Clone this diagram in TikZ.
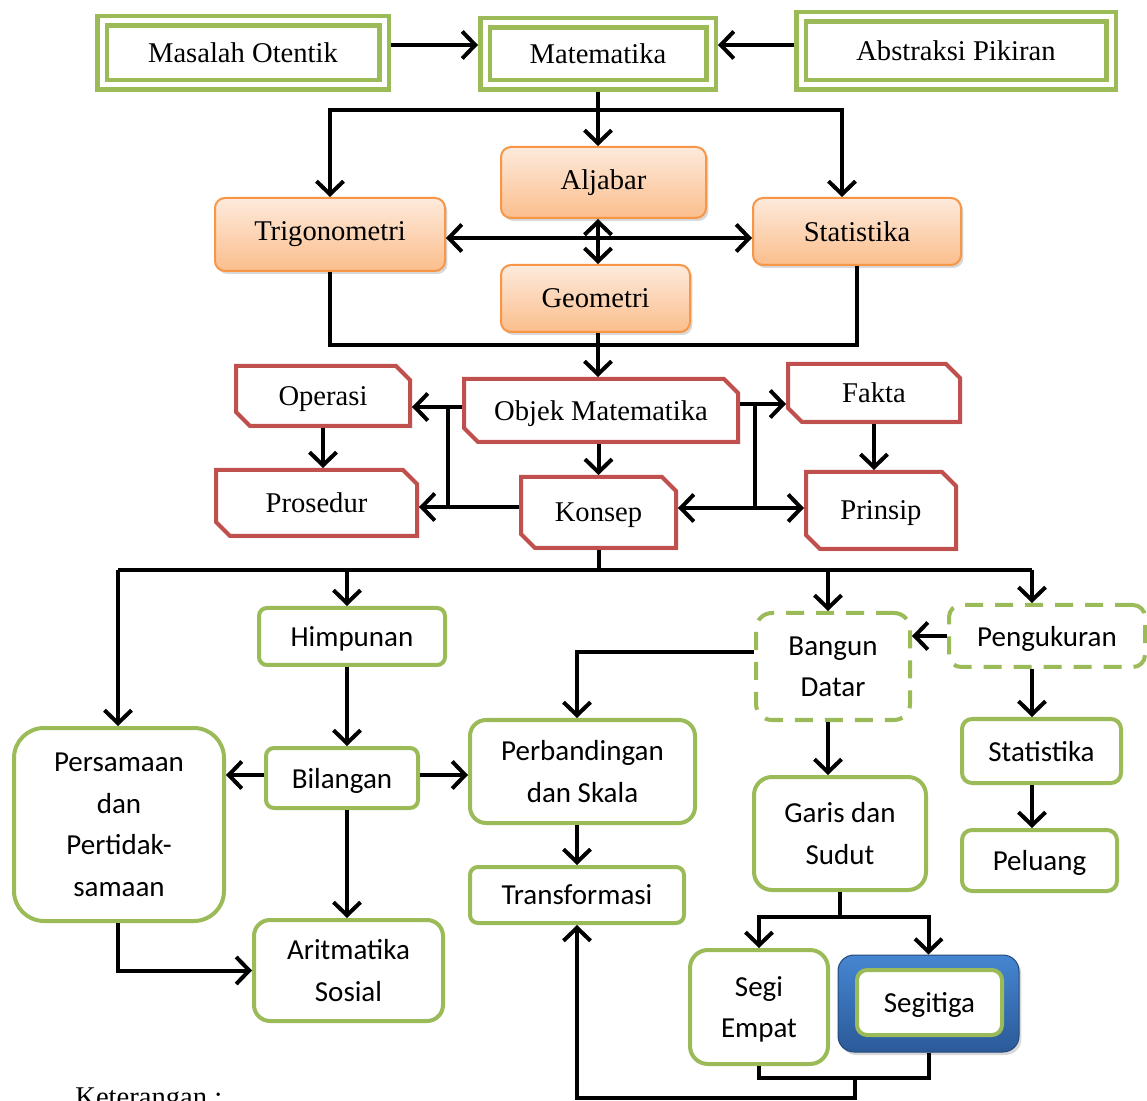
\documentclass[tikz,border=0pt]{standalone}
\usepackage{fontspec}
\setmainfont{Liberation Serif}
\newfontfamily\carl{Carlito}
\usetikzlibrary{arrows.meta,shapes.misc,shadows}
\definecolor{grn}{HTML}{9BBB59}
\definecolor{redc}{HTML}{C0504D}
\definecolor{orBd}{HTML}{F79646}
\definecolor{orTop}{HTML}{FDEADC}
\definecolor{orBot}{HTML}{FBBE8C}
\definecolor{bluT}{HTML}{4686D2}
\definecolor{bluB}{HTML}{2B5A98}
\tikzset{
  ser/.style={font=\fontsize{14.3}{17}\selectfont},
  san/.style={font=\carl\fontsize{14.5}{20.75}\selectfont, align=center, text depth=0pt},
  dbl/.style={draw=grn, line width=2.25pt, double=white, double distance=2.5pt, outer sep=3.5pt, inner sep=0pt, ser},
  orng/.style={draw=orBd, line width=1pt, rounded corners=5pt, top color=orTop, bottom color=orBot,
    drop shadow={shadow xshift=1.2pt, shadow yshift=-1.5pt, opacity=0.3}, inner sep=0pt, ser},
  redb/.style={chamfered rectangle, chamfered rectangle corners={north east,south west},
    chamfered rectangle sep=3.5pt, draw=redc, line width=2pt, fill=white, inner sep=0pt,
    drop shadow={shadow xshift=1pt, shadow yshift=-1.2pt, opacity=0.2}, ser, text depth=0pt},
  grb/.style={draw=grn, line width=2pt, rounded corners=#1, fill=white, inner sep=0pt, san},
  grb/.default=5pt,
  dgrb/.style={grb=#1, dash pattern=on 9pt off 6pt},
  dgrb/.default=6pt,
  ln/.style={line width=2pt, draw=black},
  tip/.tip={Straight Barb[length=6.5pt,width=13.5pt,line width=2pt]},
  arr/.style={ln, -tip},
  arr2/.style={ln, tip-tip},
}
\begin{document}
\begin{tikzpicture}[x=0.5pt,y=-0.5pt]
\fill[white] (0,0) rectangle (1147,1101);
\useasboundingbox (0,0) rectangle (1147,1101);

% top row
\node[dbl, minimum width=141pt, minimum height=32pt] (mas) at (243,53) {Masalah Otentik};
\node[dbl, minimum width=113pt, minimum height=31pt] (mat) at (598,54) {Matematika};
\node[dbl, minimum width=155pt, minimum height=34pt] (abs) at (956,51) {Abstraksi Pikiran};

% orange
\node[orng, minimum width=102.5pt, minimum height=35.5pt] (alj) at (603.5,182.5) {Aljabar};
\node[orng, minimum width=115pt, minimum height=36.5pt] (trig) at (330,234.5) {Trigonometri};
\node[orng, minimum width=104pt, minimum height=33.5pt] (stat) at (857,231.5) {Statistika};
\node[orng, minimum width=94.5pt, minimum height=33.5pt] (geo) at (595.5,298.5) {Geometri};

% red
\node[redb, minimum width=87pt, minimum height=30pt] (ope) at (323,396) {Operasi};
\node[redb, minimum width=137pt, minimum height=31.5pt] (obj) at (601,410.5) {Objek Matematika};
\node[redb, minimum width=86pt, minimum height=29pt] (fak) at (874,393) {Fakta};
\node[redb, minimum width=100.5pt, minimum height=33pt] (pros) at (316.5,503) {Prosedur};
\node[redb, minimum width=77.5pt, minimum height=35.5pt] (kon) at (598.5,512.5) {Konsep};
\node[redb, minimum width=75pt, minimum height=38.5pt] (pri) at (881,510.5) {Prinsip};

% green
\node[grb=4pt, minimum width=93pt, minimum height=28.5pt] (him) at (352,636.5) {Himpunan};
\node[grb=4pt, minimum width=76pt, minimum height=30pt] (bil) at (342,778) {Bilangan};
\node[grb=15pt, minimum width=105pt, minimum height=96.5pt] (pers) at (119,824.5) {Persamaan\\dan\\Pertidak-\\samaan};
\node[grb=8pt, minimum width=112.5pt, minimum height=51.5pt] (perb) at (582.5,771.5) {Perbandingan\\dan Skala};
\node[grb=4pt, minimum width=107pt, minimum height=28pt] (tra) at (577,895) {Transformasi};
\node[grb=8pt, minimum width=94.5pt, minimum height=50.5pt] (ari) at (348.5,970.5) {Aritmatika\\Sosial};
\node[dgrb=8pt, minimum width=77pt, minimum height=53.5pt] (ban) at (833,666.5) {Bangun\\Datar};
\node[dgrb=6pt, minimum width=98pt, minimum height=31pt] (peng) at (1047,636) {Pengukuran};
\node[grb=5pt, minimum width=79.5pt, minimum height=32pt] (st2) at (1041.5,751) {Statistika};
\node[grb=5pt, minimum width=77.5pt, minimum height=30.5pt] (pel) at (1039.5,860.5) {Peluang};
\node[grb=9pt, minimum width=86pt, minimum height=56.5pt] (gar) at (840,833.5) {Garis dan\\Sudut};
\node[grb=9pt, minimum width=69pt, minimum height=57pt] (segi) at (759,1007) {Segi\\Empat};
\node[top color=bluT, bottom color=bluB, draw=bluB!80!black, line width=0.5pt, rounded corners=8pt,
  minimum width=90.5pt, minimum height=48.5pt,
  drop shadow={shadow xshift=1.2pt, shadow yshift=-1.5pt, opacity=0.3}] (tri) at (928.5,1003.5) {};
\node[grb=5pt, minimum width=72.5pt, minimum height=32.5pt] (tri2) at (929.5,1002.5) {Segitiga};

\node[ser, anchor=north west, inner sep=0pt] (ket) at (75,1087) {Keterangan :};

% connectors top
\coordinate (ya) at (0,45);
\draw[arr] (mas.east |- ya) -- (mat.west |- ya);
\draw[arr] (abs.west |- ya) -- (mat.east |- ya);
\coordinate (j1) at (598,110);
\coordinate (sx) at (842,0);
\draw[arr] (mat.south -| j1) -- (alj.north -| j1);
\draw[arr] (j1) -| (trig.north);
\draw[arr] (j1) -| (stat.north -| sx);
\coordinate (hy) at (0,238);
\draw[arr2] (trig.east |- hy) -- (stat.west |- hy);
\draw[arr2] (alj.south -| j1) -- (geo.north -| j1);
\coordinate (j2) at (598,345);
\draw[ln] (trig.south) |- (j2);
\draw[ln] (stat.south) |- (j2);
\draw[arr] (geo.south -| j2) -- (obj.north -| j2);

% red section
\coordinate (xl) at (448,0);
\coordinate (xr) at (755,0);
\coordinate (ol) at (0,407);
\coordinate (or) at (0,404);
\coordinate (kl) at (0,507);
\coordinate (kr) at (0,508);
\draw[arr] (obj.west |- ol) -- (ope.east |- ol);
\draw[arr] (kon.west |- kl) -- (pros.east |- kl);
\draw[ln] (xl |- ol) -- (xl |- kl);
\draw[arr] (obj.east |- or) -- (fak.west |- or);
\draw[arr2] (kon.east |- kr) -- (pri.west |- kr);
\draw[ln] (xr |- or) -- (xr |- kr);
\draw[arr] (ope.south) -- (ope.south |- pros.north);
\draw[arr] (fak.south) -- (fak.south |- pri.north);
\draw[arr] (obj.south -| kon.north) -- (kon.north);

% bus
\coordinate (k) at (599,570);
\coordinate (d1) at (118,570);
\coordinate (d2) at (347,570);
\coordinate (d3) at (828,570);
\coordinate (d4) at (1032,570);
\draw[ln] (kon.south) -- (kon.south |- k);
\draw[ln] (d1) -- (d4);
\draw[arr] (d1) -- (d1 |- pers.north);
\draw[arr] (d2) -- (d2 |- him.north);
\draw[arr] (d3) -- (d3 |- ban.north);
\draw[arr] (d4) -- (d4 |- peng.north);

% green section
\coordinate (by) at (0,775);
\coordinate (x577) at (577,0);
\draw[arr] (d2 |- him.south) -- (d2 |- bil.north);
\draw[arr] (bil.west |- by) -- (pers.east |- by);
\draw[arr] (bil.east |- by) -- (perb.west |- by);
\draw[arr] (d2 |- bil.south) -- (d2 |- ari.north);
\draw[arr] (d1 |- pers.south) |- (ari.west);
\draw[arr] (x577 |- perb.south) -- (x577 |- tra.north);
\draw[arr] ([yshift=7.25pt]ban.west) -| (x577 |- perb.north);
\draw[arr] (peng.west) -- (peng.west -| ban.east);
\draw[arr] (d4 |- peng.south) -- (d4 |- st2.north);
\draw[arr] (d4 |- st2.south) -- (d4 |- pel.north);
\draw[arr] (d3 |- ban.south) -- (d3 |- gar.north);
\coordinate (g) at (840,917);
\draw[ln] (gar.south -| g) -- (g);
\draw[arr] (g) -| (segi.north);
\draw[arr] (g) -| (tri.north);
\coordinate (b1) at (855,1078);
\coordinate (b2) at (855,1098);
\draw[ln] (segi.south) |- (b1);
\draw[ln] (tri.south) |- (b1);
\draw[arr] (b1) -- (b2) -| (x577 |- tra.south);
\end{tikzpicture}
\end{document}
